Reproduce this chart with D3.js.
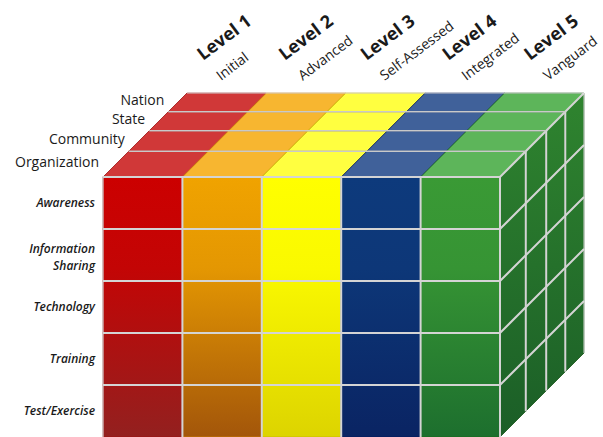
<!DOCTYPE html>
<html><head><meta charset="utf-8">
<script src="https://cdn.jsdelivr.net/npm/d3@7"></script>
<style>body{margin:0;background:#fff;overflow:hidden} svg{display:block}</style>
</head><body><svg id="c" width="603" height="437"></svg>
<script>
// ---- data (categories / labels) ----
const levels = ["Level 1","Level 2","Level 3","Level 4","Level 5"];
const levelNames = ["Initial","Advanced","Self-Assessed","Integrated","Vanguard"];
const dimensions = ["Awareness","Information Sharing","Technology","Training","Test/Exercise"];
const scopes = ["Organization","Community","State","Nation"]; // front to back
// ---- colours ----
const frontTop = ["#cc0000","#f0a300","#ffff00","#0d3a7c","#3a9a35"];
const frontBottom = ["#93201f","#a3560a","#ddd400","#0a2463","#1d6f2e"];
const topColors = ["#d03838","#f7b630","#ffff40","#40619a","#5db55a"];
const edgeColors = ["#a01010","#d08000","#c8b800","#001a60","#1a6a1a"];
const sideTop = "#2f842f", sideBottom = "#1b5e27";
const gridColor = "#d4d4d4";

const svg = d3.select("#c");
const x = d3.scaleBand().domain(levels).range([103, 500]);
const y = d3.scaleBand().domain(dimensions).range([177, 437]);
const D = 84;
const depth = d3.scaleLinear().domain([0,1,2,3,4]).range([0, 0.307, 0.55, 0.777, 1]);
const P = (px, py, d) => [px + d * D, py - d * D];
const x0 = x.range()[0], x1 = x.range()[1], yT = y.range()[0], yB = y.range()[1];
const line = d3.line();

// gradients
const defs = svg.append("defs");
levels.forEach((l, i) => {
  const g = defs.append("linearGradient").attr("id", "g" + i)
    .attr("gradientUnits", "userSpaceOnUse").attr("x1", 0).attr("x2", 0).attr("y1", yT).attr("y2", yB);
  g.append("stop").attr("offset", "0").attr("stop-color", frontTop[i]);
  g.append("stop").attr("offset", "0.35").attr("stop-color", d3.interpolateRgb(frontTop[i], frontBottom[i])(0.15));
  g.append("stop").attr("offset", "1").attr("stop-color", frontBottom[i]);
});
const sg = defs.append("linearGradient").attr("id", "side")
  .attr("gradientUnits", "userSpaceOnUse").attr("x1", 0).attr("x2", 0).attr("y1", yT - D).attr("y2", yB);
sg.append("stop").attr("offset", "0").attr("stop-color", sideTop);
sg.append("stop").attr("offset", "1").attr("stop-color", sideBottom);

// top face cells
const topG = svg.append("g");
levels.forEach((l, i) => {
  scopes.forEach((s, k) => {
    const a = x(l), b = x(l) + x.bandwidth(), d0 = depth(k), d1 = depth(k + 1);
    topG.append("path")
      .attr("d", line([P(a, yT, d0), P(b, yT, d0), P(b, yT, d1), P(a, yT, d1)]) + "Z")
      .attr("fill", topColors[i]).attr("stroke", edgeColors[i]).attr("stroke-width", 0.8);
  });
});

// right side cells
const sideG = svg.append("g");
dimensions.forEach((dm, r) => {
  const a = y(dm), b = y(dm) + y.bandwidth();
  scopes.forEach((s, k) => {
    const d0 = depth(k), d1 = depth(k + 1);
    sideG.append("path")
      .attr("d", line([P(x1, a, d0), P(x1, a, d1), P(x1, b, d1), P(x1, b, d0)]) + "Z")
      .attr("fill", "url(#side)").attr("stroke", "#145214").attr("stroke-width", 0.8);
  });
});

// front cells
const frontG = svg.append("g");
levels.forEach((l, i) => {
  dimensions.forEach((dm) => {
    frontG.append("rect")
      .attr("x", x(l)).attr("y", y(dm)).attr("width", x.bandwidth()).attr("height", y.bandwidth())
      .attr("fill", "url(#g" + i + ")").attr("stroke", edgeColors[i]).attr("stroke-width", 0.8);
  });
});

// light grid lines
const gridG = svg.append("g").attr("stroke", gridColor).attr("stroke-width", 2).attr("fill", "none");
dimensions.forEach((dm) => {
  const yy = y(dm);
  gridG.append("path").attr("d", line([[x0, yy], [x1, yy], P(x1, yy, 1)]));
});
levels.forEach((l, i) => {
  if (i > 0) gridG.append("path").attr("d", line([[x(l), yT], [x(l), yB]]));
});
gridG.append("path").attr("d", line([[x0, yT], [x0, yB]])).attr("stroke-width", 1.2);
gridG.append("path").attr("d", line([[x1, yT], [x1, yB]]));
[1, 2, 3].forEach(k => {
  const d = depth(k);
  gridG.append("path").attr("d", line([P(x1, yT, d), P(x1, yB, d)]));
  gridG.append("path").attr("d", line([P(x0, yT, d), P(x1, yT, d)])).attr("stroke", "#c9c9c9").attr("stroke-width", 1.6);
});
gridG.append("path").attr("d", line([P(x0, yT, 1), P(x1, yT, 1), P(x1, yB, 1)])).attr("stroke-width", 1).attr("stroke", "#e0e0e0");

// scope labels (left of top face)
const labG = svg.append("g").attr("font-family", "'Open Sans', sans-serif").attr("fill", "#1a1a1a");
scopes.forEach((s, k) => {
  const fx = x0 + depth(k) * D;
  const cy = yT - (depth(k) + depth(k + 1)) / 2 * D - 2;
  labG.append("text").attr("x", fx - 4).attr("y", cy).attr("dy", "0.35em")
    .attr("text-anchor", "end").attr("font-size", 14).text(s);
});

// dimension labels (italic)
dimensions.forEach((dm) => {
  const cy = y(dm) + y.bandwidth() / 2;
  const parts = dm.length > 15 ? dm.split(" ") : [dm];
  parts.forEach((p, j) => {
    const off = parts.length > 1 ? (j === 0 ? -6 : 11) : 0;
    labG.append("text").attr("x", 95).attr("y", cy + off).attr("dy", "0.35em")
      .attr("text-anchor", "end").attr("font-size", 12)
      .attr("font-style", "italic").attr("font-weight", 600).text(p);
  });
});

// level labels (rotated)
const lx = d3.scalePoint().domain(levels).range([203, 530]);
levels.forEach((l, i) => {
  labG.append("text").attr("transform", `translate(${lx(l)},61) rotate(-37)`)
    .attr("font-size", 18).attr("font-weight", 700).text(l);
  labG.append("text").attr("transform", `translate(${lx(l) + 18},81) rotate(-37)`)
    .attr("font-size", 14).text(levelNames[i]);
});
</script>
</body></html>
